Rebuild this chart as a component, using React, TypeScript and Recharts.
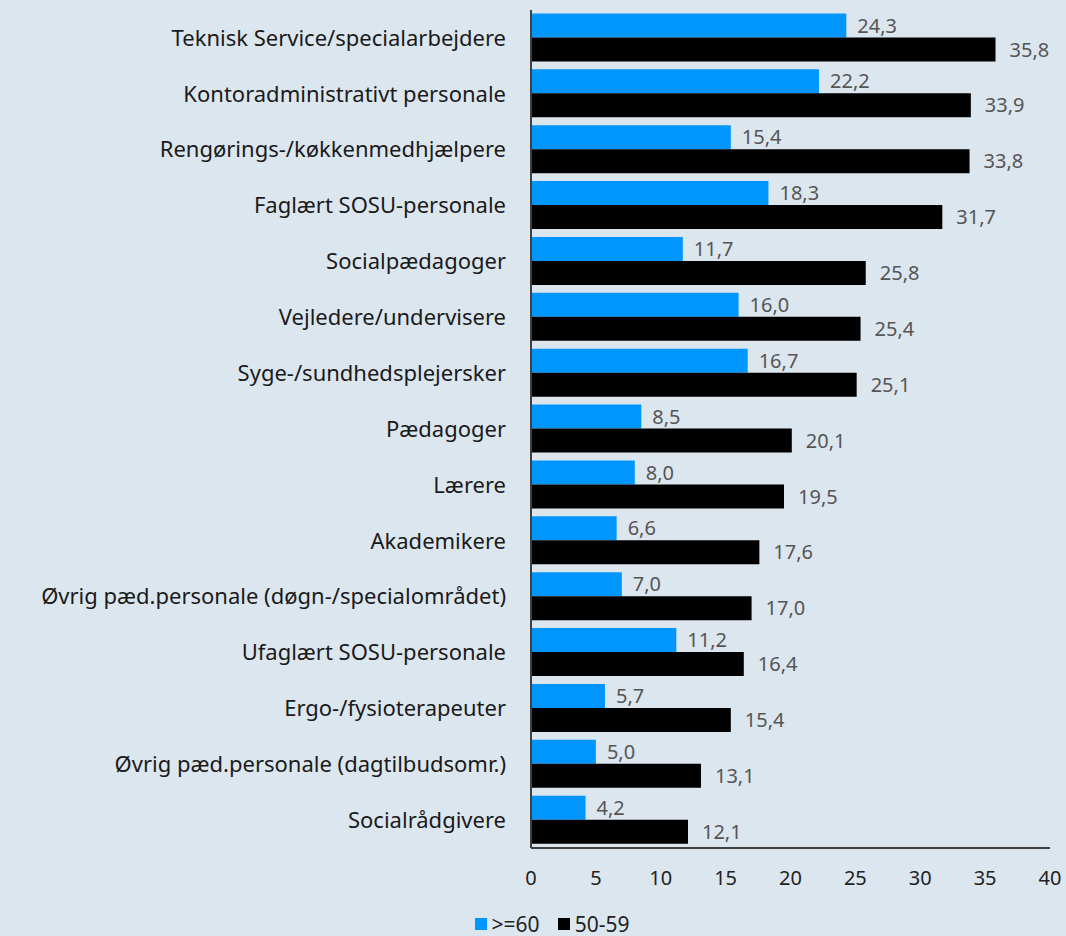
import { BarChart, Bar, XAxis, YAxis, Legend, LabelList } from 'recharts';

const categories = [
  'Teknisk Service/specialarbejdere',
  'Kontoradministrativt personale',
  'Rengørings-/køkkenmedhjælpere',
  'Faglært SOSU-personale',
  'Socialpædagoger',
  'Vejledere/undervisere',
  'Syge-/sundhedsplejersker',
  'Pædagoger',
  'Lærere',
  'Akademikere',
  'Øvrig pæd.personale (døgn-/specialområdet)',
  'Ufaglært SOSU-personale',
  'Ergo-/fysioterapeuter',
  'Øvrig pæd.personale (dagtilbudsomr.)',
  'Socialrådgivere',
];

const over60 = [24.3, 22.2, 15.4, 18.3, 11.7, 16.0, 16.7, 8.5, 8.0, 6.6, 7.0, 11.2, 5.7, 5.0, 4.2];
const age5059 = [35.8, 33.9, 33.8, 31.7, 25.8, 25.4, 25.1, 20.1, 19.5, 17.6, 17.0, 16.4, 15.4, 13.1, 12.1];

const xTicks = [0, 5, 10, 15, 20, 25, 30, 35, 40];

const BLUE = '#0096ff';
const BLACK = '#000000';
const FONT = '"Noto Sans", sans-serif';

const data = categories.map((name, i) => ({
  name,
  over60: over60[i],
  age5059: age5059[i],
}));

const fmt = (v: any) => Number(v).toFixed(1).replace('.', ',');

function LegendContent() {
  const items = [
    { label: '>=60', color: BLUE },
    { label: '50-59', color: BLACK },
  ];
  return (
    <div
      style={{
        display: 'flex',
        justifyContent: 'center',
        alignItems: 'center',
        gap: 18,
        height: 24,
        lineHeight: '24px',
        fontFamily: FONT,
        fontSize: 21,
        color: '#222',
        paddingLeft: 54,
      }}
    >
      {items.map((it) => (
        <div key={it.label} style={{ display: 'flex', alignItems: 'center' }}>
          <span style={{ width: 12, height: 12, background: it.color, display: 'inline-block', marginRight: 5 }} />
          <span>{it.label}</span>
        </div>
      ))}
    </div>
  );
}

export default function App() {
  return (
    <div style={{ position: 'absolute', left: 0, top: 0, width: 1066, height: 936, background: '#dce6ef' }}>
      <BarChart
        width={1066}
        height={936}
        data={data}
        layout="vertical"
        margin={{ top: 10, right: 16, left: 0, bottom: 0 }}
        barCategoryGap={3.5}
        barGap={0}
      >
        <XAxis
          type="number"
          domain={[0, 40]}
          ticks={xTicks}
          tickLine={false}
          tickSize={0}
          tickMargin={23}
          height={64}
          axisLine={{ stroke: '#404040', strokeWidth: 2 }}
          tick={{ fill: '#222', fontSize: 20, fontFamily: FONT }}
        />
        <YAxis
          type="category"
          dataKey="name"
          width={531}
          tickLine={false}
          tickSize={0}
          tickMargin={25}
          interval={0}
          axisLine={{ stroke: '#404040', strokeWidth: 2 }}
          tick={{ fill: '#1a1a1a', fontSize: 22, fontFamily: FONT }}
        />
        <Legend verticalAlign="bottom" content={<LegendContent />} />
        <Bar dataKey="over60" name=">=60" fill={BLUE} isAnimationActive={false}>
          <LabelList dataKey="over60" position="right" offset={11} formatter={fmt} fill="#555" fontSize={20} fontFamily={FONT} />
        </Bar>
        <Bar dataKey="age5059" name="50-59" fill={BLACK} isAnimationActive={false}>
          <LabelList dataKey="age5059" position="right" offset={14} formatter={fmt} fill="#555" fontSize={20} fontFamily={FONT} />
        </Bar>
      </BarChart>
    </div>
  );
}
